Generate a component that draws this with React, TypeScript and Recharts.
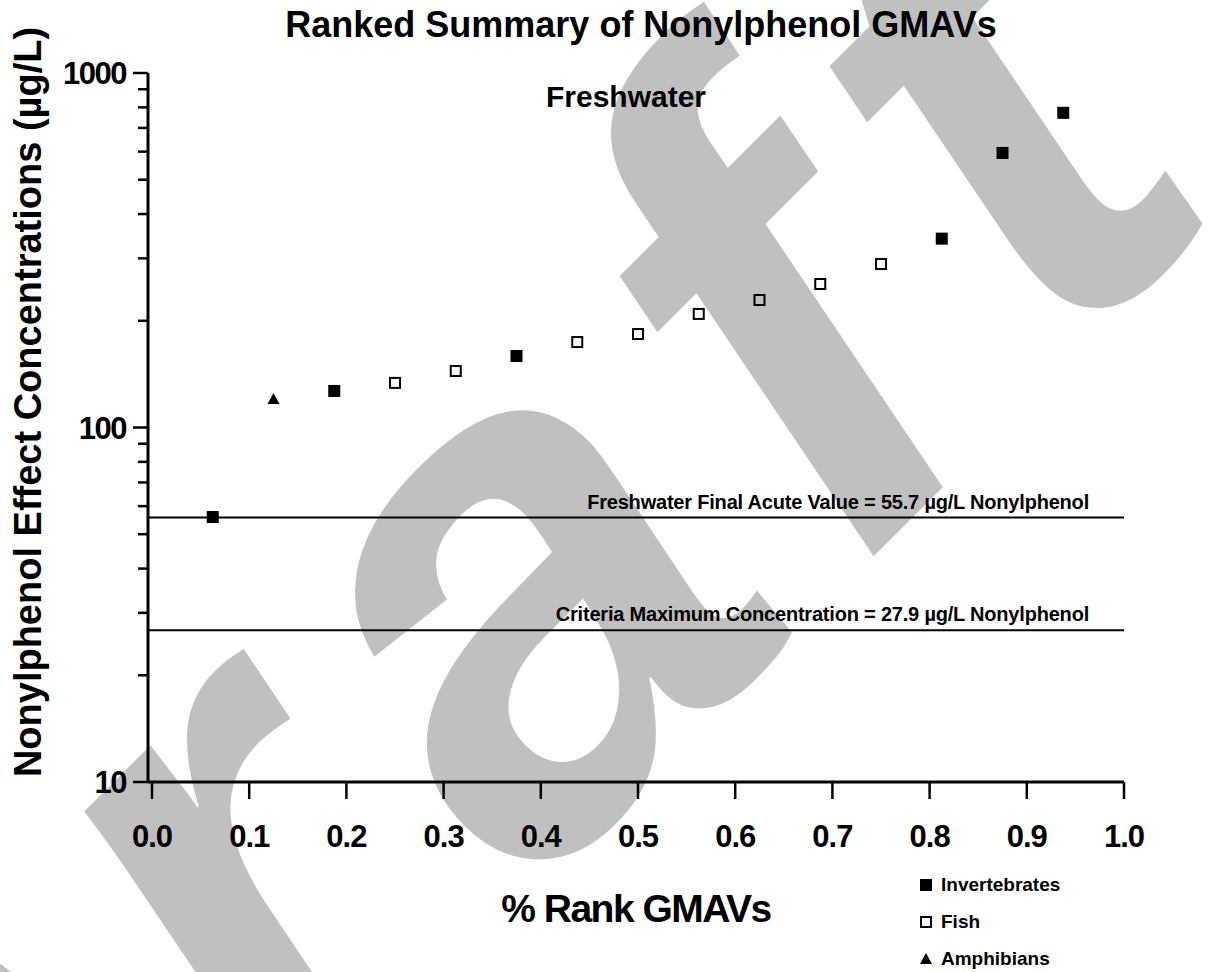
import React from "react";
import {
  ScatterChart,
  Scatter,
  XAxis,
  YAxis,
  ReferenceLine,
  Legend,
} from "recharts";

const FONT = "'Liberation Sans', Arial, Helvetica, sans-serif";

// ---- data ----
const invertebrateRanks = [0.0625, 0.1875, 0.375, 0.8125, 0.875, 0.9375];
const invertebrateValues = [55.9, 126.8, 159.1, 341, 595, 772];
const fishRanks = [0.25, 0.3125, 0.4375, 0.5, 0.5625, 0.625, 0.6875, 0.75];
const fishValues = [133.6, 144.3, 174.2, 183.5, 209.1, 228.9, 254.0, 289.2];
const amphibianRanks = [0.125];
const amphibianValues = [120.3];

const xTicks = [0, 0.1, 0.2, 0.3, 0.4, 0.5, 0.6, 0.7, 0.8, 0.9, 1.0];
const yMajorTicks = [10, 100, 1000];
const yTicks = [
  10, 20, 30, 40, 50, 60, 70, 80, 90, 100, 200, 300, 400, 500, 600, 700, 800,
  900, 1000,
];

const faValue = 55.7;
const cmcLine = 26.8;
const faLabel = "Freshwater Final Acute Value = 55.7 µg/L Nonylphenol";
const cmcLabel = "Criteria Maximum Concentration = 27.9 µg/L Nonylphenol";

const legendItems = [
  { name: "Invertebrates", kind: "filled" },
  { name: "Fish", kind: "open" },
  { name: "Amphibians", kind: "triangle" },
];

const invertebrateData = invertebrateRanks.map((r, i) => ({ x: r, y: invertebrateValues[i] }));
const fishData = fishRanks.map((r, i) => ({ x: r, y: fishValues[i] }));
const amphibianData = amphibianRanks.map((r, i) => ({ x: r, y: amphibianValues[i] }));

const FilledSquare = (p: any) => (
  <rect x={p.cx - 6} y={p.cy - 6} width={12} height={12} fill="#000" />
);
const OpenSquare = (p: any) => (
  <rect x={p.cx - 5} y={p.cy - 5} width={10} height={10} fill="none" stroke="#000" strokeWidth={2} />
);
const Triangle = (p: any) => (
  <polygon
    points={`${p.cx},${p.cy - 6} ${p.cx + 6},${p.cy + 5} ${p.cx - 6},${p.cy + 5}`}
    fill="#000"
  />
);

const YTick = (props: any) => {
  const { x, y, payload } = props;
  const v = payload.value;
  const major = yMajorTicks.some((m) => Math.abs(m - v) < 1e-6);
  return (
    <g>
      <line x1={x - (major ? 15 : 10)} x2={x} y1={y} y2={y} stroke="#000" strokeWidth={2.5} />
      {major && (
        <text
          x={x - 22}
          y={y + 11}
          textAnchor="end"
          fontFamily={FONT}
          fontWeight="bold"
          fontSize={31}
          letterSpacing={-1.5}
          fill="#000"
        >
          {String(v)}
        </text>
      )}
    </g>
  );
};

const XTick = (props: any) => {
  const { x, y, payload } = props;
  return (
    <g>
      <line x1={x} x2={x} y1={y} y2={y + 17} stroke="#000" strokeWidth={2.5} />
      <text
        x={x}
        y={y + 65}
        textAnchor="middle"
        fontFamily={FONT}
        fontWeight="bold"
        fontSize={31}
        letterSpacing={-1}
        fill="#000"
      >
        {Number(payload.value).toFixed(1)}
      </text>
    </g>
  );
};

const refLabel = (text: string) => (props: any) => {
  const vb = props.viewBox || {};
  return (
    <text
      x={vb.x + vb.width - 35}
      y={vb.y - 9}
      textAnchor="end"
      fontFamily={FONT}
      fontWeight="bold"
      fontSize={20}
      letterSpacing={-0.2}
      fill="#000"
    >
      {text}
    </text>
  );
};

const LegendContent = () => (
  <div style={{ fontFamily: FONT, fontWeight: "bold", fontSize: 19 }}>
    {legendItems.map((it) => (
      <div key={it.name} style={{ display: "flex", alignItems: "center", height: 37 }}>
        <svg width={16} height={14} style={{ marginRight: 7 }}>
          {it.kind === "filled" && <rect x={2} y={1} width={12} height={12} fill="#000" />}
          {it.kind === "open" && (
            <rect x={3} y={2} width={10} height={10} fill="none" stroke="#000" strokeWidth={2} />
          )}
          {it.kind === "triangle" && <polygon points="8,1 14,12 2,12" fill="#000" />}
        </svg>
        <span>{it.name}</span>
      </div>
    ))}
  </div>
);

export default function App() {
  return (
    <div style={{ position: "absolute", left: 0, top: 0, width: 1220, height: 972, background: "#fff", overflow: "hidden" }}>
      <svg
        width={1220}
        height={972}
        style={{ position: "absolute", left: 0, top: 0 }}
      >
        <text
          x={1277}
          y={153}
          transform="rotate(-45 1277 153)"
          textAnchor="end"
          fontFamily={FONT}
          fontWeight="bold"
          fontStyle="italic"
          fontSize={715}
          letterSpacing={60}
          fill="#C0C0C0"
        >
          Draft
        </text>
      </svg>
      <div style={{ position: "absolute", left: 0, top: 0 }}>
        <ScatterChart
          width={1220}
          height={972}
          margin={{ top: 73, right: 96, bottom: 130, left: 48 }}
        >
          <XAxis
            type="number"
            dataKey="x"
            domain={[0, 1]}
            ticks={xTicks}
            padding={{ left: 4, right: 0 }}
            height={60}
            axisLine={{ stroke: "#000", strokeWidth: 3 }}
            tickLine={false}
            tickSize={0}
            tickMargin={0}
            tick={<XTick />}
            interval={0}
          />
          <YAxis
            type="number"
            dataKey="y"
            scale="log"
            domain={[10, 1000]}
            ticks={yTicks}
            allowDataOverflow
            width={100}
            axisLine={{ stroke: "#000", strokeWidth: 3 }}
            tickLine={false}
            tickSize={0}
            tickMargin={0}
            tick={<YTick />}
            interval={0}
          />
          <ReferenceLine y={faValue} stroke="#000" strokeWidth={2} label={refLabel(faLabel)} />
          <ReferenceLine y={cmcLine} stroke="#000" strokeWidth={2} label={refLabel(cmcLabel)} />
          <Scatter name="Invertebrates" data={invertebrateData} shape={FilledSquare} isAnimationActive={false} />
          <Scatter name="Fish" data={fishData} shape={OpenSquare} isAnimationActive={false} />
          <Scatter name="Amphibians" data={amphibianData} shape={Triangle} isAnimationActive={false} />
          <Legend
            layout="horizontal"
            verticalAlign="middle"
            align="center"
            content={<LegendContent />}
            wrapperStyle={{ position: "absolute", left: 918, top: 866, width: 260 }}
          />
          <text x={641} y={37} textAnchor="middle" fontFamily={FONT} fontWeight="bold" fontSize={36} fill="#000">
            Ranked Summary of Nonylphenol GMAVs
          </text>
          <text x={626} y={107} textAnchor="middle" fontFamily={FONT} fontWeight="bold" fontSize={30} fill="#000">
            Freshwater
          </text>
          <text
            x={41}
            y={402}
            transform="rotate(-90 41 402)"
            textAnchor="middle"
            fontFamily={FONT}
            fontWeight="bold"
            fontSize={38}
            fill="#000"
          >
            Nonylphenol Effect Concentrations (µg/L)
          </text>
          <text x={636} y={922} textAnchor="middle" fontFamily={FONT} fontWeight="bold" fontSize={39} letterSpacing={-1.5} fill="#000">
            % Rank GMAVs
          </text>
        </ScatterChart>
      </div>
    </div>
  );
}
